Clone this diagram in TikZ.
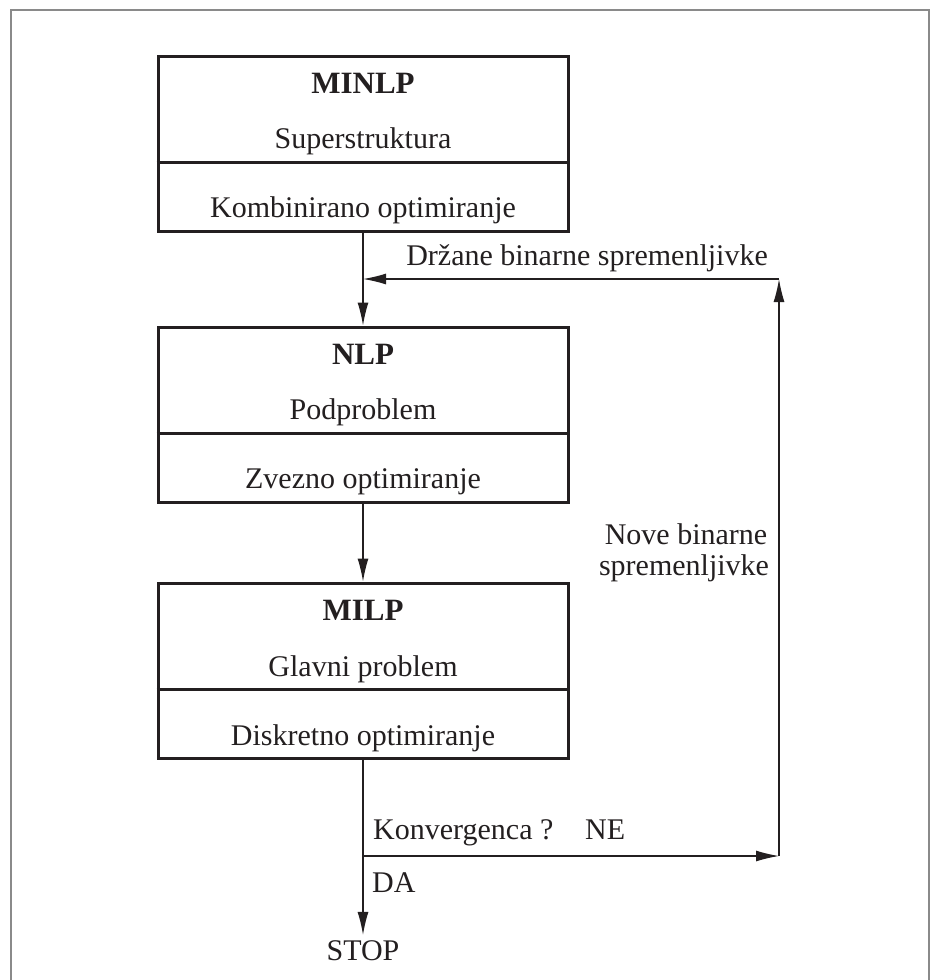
\documentclass[tikz,border=0pt]{standalone}
\usepackage{fontspec}
\setmainfont{Liberation Serif}
\usetikzlibrary{arrows.meta}
\definecolor{ink}{RGB}{35,31,32}
\definecolor{frame}{RGB}{138,138,138}
\begin{document}
\begin{tikzpicture}[x=1pt,y=-1pt,
  box/.style={draw=ink,line width=3pt,minimum width=410pt,minimum height=175pt,inner sep=0pt},
  lbl/.style={inner sep=0pt,text=ink,font=\fontsize{30}{25}\selectfont},
  ttl/.style={inner sep=0pt,text=ink,font=\fontsize{31}{30}\selectfont\bfseries},
  conn/.style={draw=ink,line width=1.2pt,-{Latex[length=23pt,width=11pt]}},
  divider/.style={draw=ink,line width=3pt}]
\useasboundingbox (0,0) rectangle (934,980);
\draw[frame,line width=2pt] (11,990) -- (11,10) -- (929,10) -- (929,990);
% boxes
\node[box] (b1) at (363,143.5) {};
\node[box] (b2) at (363,414.5) {};
\node[box] (b3) at (363,670.5) {};
\draw[divider] (b1.west |- 0,162) -- (b1.east |- 0,162);
\draw[divider] (b2.west |- 0,433) -- (b2.east |- 0,433);
\draw[divider] (b3.west |- 0,689) -- (b3.east |- 0,689);
% box texts
\node[ttl,anchor=base] (t1) at (363,93) {MINLP};
\node[lbl,anchor=base] (s1) at (363,148) {Superstruktura};
\node[lbl,anchor=base] (o1) at (363,217) {Kombinirano optimiranje};
\node[ttl,anchor=base] (t2) at (363,364) {NLP};
\node[lbl,anchor=base] (s2) at (363,419) {Podproblem};
\node[lbl,anchor=base] (o2) at (363,488) {Zvezno optimiranje};
\node[ttl,anchor=base] (t3) at (363,620) {MILP};
\node[lbl,anchor=base] (s3) at (363,676) {Glavni problem};
\node[lbl,anchor=base] (o3) at (363,745) {Diskretno optimiranje};
% stop
\node[lbl,anchor=base] (stop) at (363,960) {STOP};
% coordinates of the loop
\coordinate (k) at (363,856);
\coordinate (r1) at (779,856);
\coordinate (r2) at (779,279);
\coordinate (j) at (363,279);
% connectors
\draw[conn] (b1.south) -- (b2.north);
\draw[conn] (b2.south) -- (b3.north);
\draw[conn,shorten >=5pt] (b3.south) -- (stop.north);
\draw[conn] (k) -- (r1);
\draw[conn] (r1) -- (r2);
\draw[conn] (r2) -- (j);
% labels
\node[lbl,anchor=base east] (l1) at (768,265) {Držane binarne spremenljivke};
\node[lbl,anchor=base] (l2a) at (686,544) {Nove binarne};
\node[lbl,anchor=base] (l2b) at (684,575) {spremenljivke};
\node[lbl,anchor=base west] (l3) at (373,839) {Konvergenca ?};
\node[lbl,anchor=base west] (l4) at (585,839) {NE};
\node[lbl,anchor=base west] (l5) at (372,892) {DA};
\end{tikzpicture}
\end{document}
